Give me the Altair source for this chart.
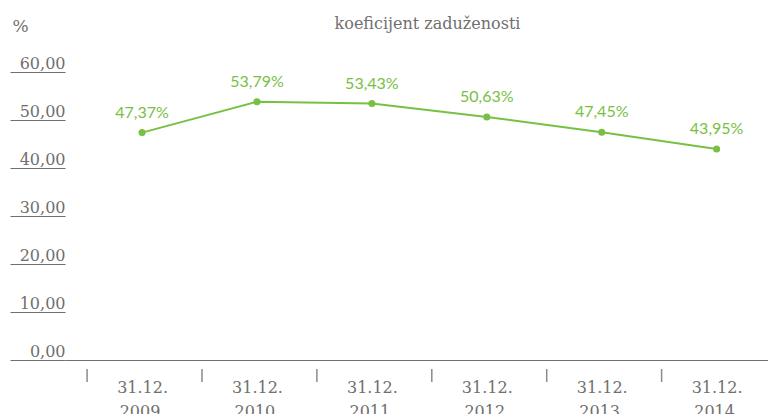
import altair as alt
import pandas as pd

# ---- data ----
dates = ["31.12. 2009.", "31.12. 2010.", "31.12. 2011.", "31.12. 2012.", "31.12. 2013.", "31.12. 2014."]
values = [47.37, 53.79, 53.43, 50.63, 47.45, 43.95]
y_ticks = [0, 10, 20, 30, 40, 50, 60]
title_text = "koeficijent zaduženosti"
y_title = "%"

labels = [f"{v:.2f}".replace(".", ",") + "%" for v in values]
df = pd.DataFrame({"date": dates, "value": values, "label": labels})

GREEN = "#78c043"
GRAY = "#6f6f6f"
SERIF = "DejaVu Serif"
W, H = 703, 288

xscale = alt.Scale(type="point", padding=0.559, align=0.6)
x_axis = alt.Axis(
    title=None,
    labelExpr="split(datum.label, ' ')",
    labelFont=SERIF,
    labelFontSize=16,
    labelColor=GRAY,
    labelAngle=0,
    labelBaseline="alphabetic",
    labelPadding=32,
    labelLineHeight=24,
    ticks=False,
    domain=True,
    domainColor=GRAY,
    domainWidth=1,
    grid=False,
)
y_axis = alt.Axis(
    values=y_ticks,
    labelExpr="replace(format(datum.value, '.2f'), '.', ',')",
    labelFont=SERIF,
    labelFontSize=16,
    labelColor=GRAY,
    labelAlign="right",
    labelBaseline="alphabetic",
    labelPadding=-55,
    labelOffset=-4,
    tickSize=55,
    tickColor=GRAY,
    tickWidth=1,
    domain=False,
    grid=False,
    title=y_title,
    titleAngle=0,
    titleX=-53,
    titleY=-41,
    titleAlign="left",
    titleBaseline="alphabetic",
    titleFont=SERIF,
    titleFontSize=17,
    titleFontWeight="normal",
    titleColor=GRAY,
)

base = alt.Chart(df)

line = base.mark_line(color=GREEN, strokeWidth=2).encode(
    x=alt.X("date:N", sort=None, scale=xscale, axis=x_axis),
    y=alt.Y("value:Q", scale=alt.Scale(domain=[0, 60], nice=False), axis=y_axis),
)
points = base.mark_circle(color=GREEN, size=50, opacity=1).encode(
    x=alt.X("date:N", sort=None, scale=xscale),
    y=alt.Y("value:Q"),
)
text = base.mark_text(
    color=GREEN, font="Lato", fontSize=16, baseline="alphabetic", dy=-15
).encode(
    x=alt.X("date:N", sort=None, scale=xscale),
    y=alt.Y("value:Q"),
    text="label:N",
)
seps = base.mark_rule(color="#8a8a8a", strokeWidth=1.5, xOffset=-55).encode(
    x=alt.X("date:N", sort=None, scale=xscale),
    y=alt.value(H + 9),
    y2=alt.value(H + 22),
)

chart = (
    alt.layer(line, seps, points, text)
    .properties(
        width=W,
        height=H,
        autosize=alt.AutoSizeParams(type="none"),
        padding={"left": 57, "top": 64, "right": 0, "bottom": 54},
        background="white",
        title=alt.TitleParams(
            title_text,
            font=SERIF,
            fontSize=16,
            fontWeight="normal",
            color=GRAY,
            anchor="middle",
            baseline="alphabetic",
            dx=11,
            offset=-28,
        ),
    )
    .configure_view(stroke=None)
)

chart.save("out.html", embed_options={"renderer": "svg", "actions": False})
